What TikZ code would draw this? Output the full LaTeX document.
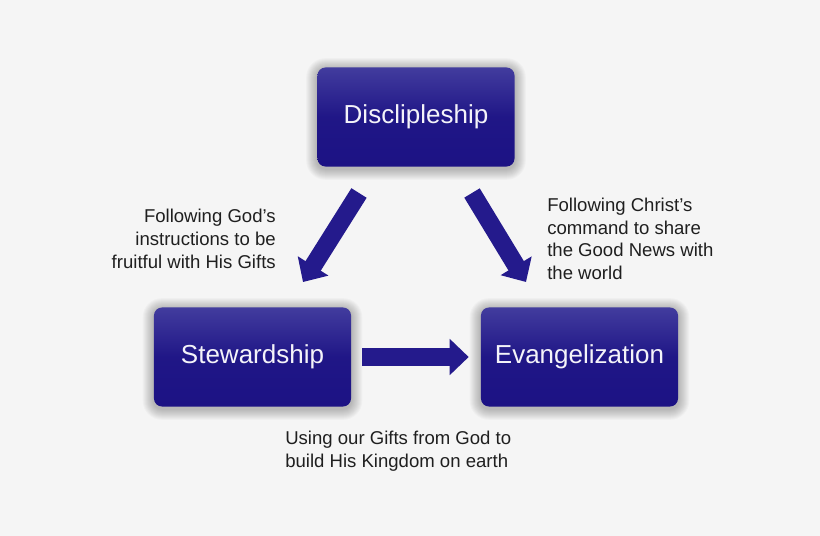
\documentclass[tikz,border=0pt]{standalone}
\usepackage{fontspec}
\setmainfont{Liberation Sans}
\usepackage{tikz}
\usetikzlibrary{calc, positioning, arrows.meta, backgrounds}
\definecolor{navytop}{RGB}{66,60,158}
\definecolor{navybot}{RGB}{28,18,132}
\definecolor{navyarr}{RGB}{36,26,140}
\definecolor{paper}{RGB}{245,245,245}
\tikzstyle{blk}=[shape=rectangle, rounded corners=0.2cm, minimum width=4.925cm, minimum height=2.475cm, top color=navytop, bottom color=navybot, middle color=navybot!90!navytop, text=white!94!navytop, font=\fontsize{18.5}{22}\selectfont]
\tikzstyle{note}=[inner sep=0pt, text=black!88, font=\fontsize{13.2}{16.4}\selectfont]
\tikzstyle{fat}=[draw=navyarr, line width=12.8pt, -{Triangle[width=25pt, length=13.5pt]}]
\tikzset{>=stealth}

\begin{document}
\begin{tikzpicture}[x=0.025cm, y=-0.025cm]
\useasboundingbox (0,0) rectangle (820,536);

\node[blk] (disc) at (416,117) {Disclipleship};
\node[blk] (stew) at (252.5,357) {Stewardship};
\node[blk] (evan) at (579.5,357) {Evangelization};

% soft glow behind the boxes
\begin{scope}[on background layer]
\fill[paper] (0,0) rectangle (820,536);
\foreach \n in {disc, stew, evan}
  \foreach \g in {1,...,11}
    \fill[black, opacity=0.022, rounded corners=0.2cm+\g*0.025cm]
      ($(\n.north west)+(-\g,-\g+2)$) rectangle ($(\n.south east)+(\g,\g+2)$);
\end{scope}

\coordinate (ltail) at (359,193);
\coordinate (ltip) at (303,282);
\coordinate (rtail) at (472,193);
\coordinate (rtip) at (526,282);

\draw[fat] (ltail) -- (ltip);
\draw[fat] (rtail) -- (rtip);
\draw[fat, shorten <=11*0.025cm, shorten >=12*0.025cm] (stew.east) -- (evan.west);

\node[note, align=right, anchor=east] (lgift) at (276,239) {Following God's\\instructions to be\\fruitful with His Gifts};
\node[note, align=left, anchor=west, font=\fontsize{13.2}{16}\selectfont] (rnews) at (547,239) {Following Christ's\\command to share\\the Good News with\\the world};
\node[note, align=left, anchor=west] (bking) at (285,451) {Using our Gifts from God to\\build His Kingdom on earth};
\end{tikzpicture}
\end{document}
